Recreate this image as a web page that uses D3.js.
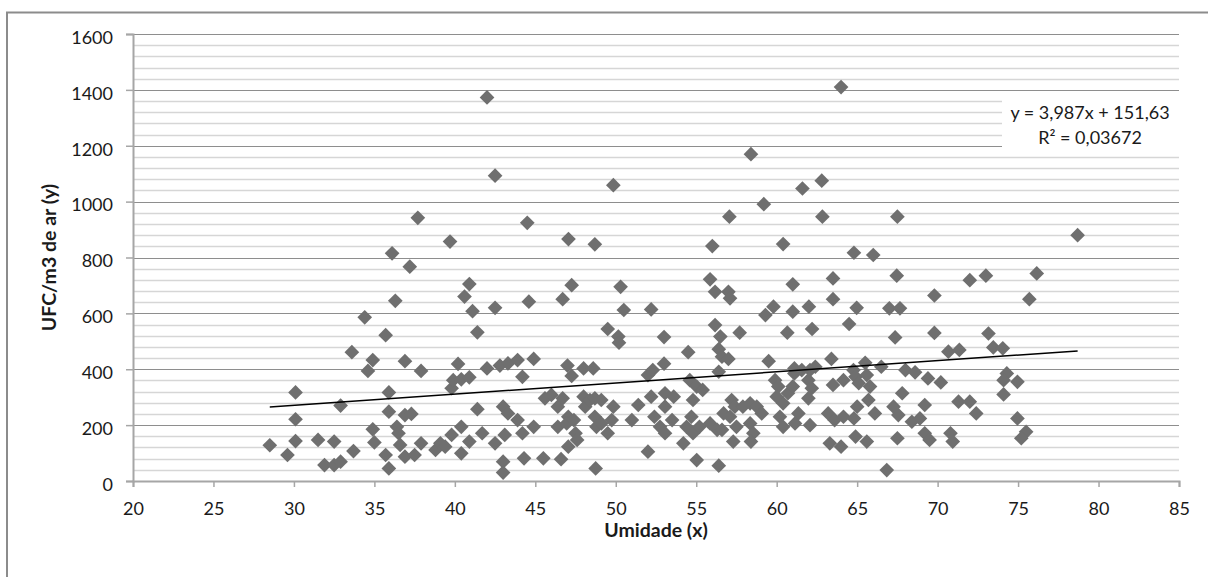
<!DOCTYPE html>
<html>
<head>
<meta charset="utf-8">
<script src="https://cdn.jsdelivr.net/npm/d3@7"></script>
<style>
  html, body { margin: 0; padding: 0; background: #fff; }
  svg { display: block; font-family: Lato, "Open Sans", sans-serif; }
</style>
</head>
<body>
<svg id="chart" width="1208" height="577"></svg>
<script>
/* ---- data ---- */
const humidity = [
  28.5, 29.6, 30.1, 30.1, 30.1, 31.5, 31.9, 32.5, 32.5, 32.9, 32.9, 33.7, 33.6, 34.4, 34.6, 34.9, 34.9, 35.0, 35.7, 35.7,
  35.9, 35.9, 35.9, 36.1, 36.3, 36.4, 36.5, 36.6, 36.9, 36.9, 36.9, 37.3, 37.2, 37.5, 37.7, 37.9, 37.9, 38.8, 39.1, 39.4,
  39.7, 39.8, 39.8, 39.9, 40.2, 40.4, 40.4, 40.4, 40.6, 40.9, 40.9, 40.9, 41.1, 41.4, 41.4, 41.7, 42.0, 42.0, 42.5, 42.5,
  42.5, 42.8, 43.0, 43.0, 43.0, 43.1, 43.3, 43.3, 43.9, 43.9, 44.2, 44.2, 44.3, 44.5, 44.6, 44.9, 44.9, 45.5, 45.6, 46.0,
  46.4, 46.7, 47.05, 46.4, 46.95, 47.4, 47.5, 47.05, 47.6, 48.0, 48.1, 48.4, 48.7, 49.1, 48.7, 48.8, 49.1, 49.5, 49.85, 49.75,
  51.0, 51.4, 52.2, 52.4, 52.75, 46.6, 46.7, 47.0, 47.06, 47.26, 47.26, 48.0, 48.6, 48.7, 48.75, 49.5, 49.85, 50.16, 50.2, 50.3,
  50.5, 52.0, 52.0, 52.2, 52.3, 53.0, 53.0, 53.06, 53.6, 53.06, 53.5, 53.06, 54.6, 55.03, 55.4, 54.8, 54.7, 54.4, 54.8, 54.2,
  55.2, 55.86, 56.3, 56.6, 56.7, 57.2, 57.4, 57.1, 57.5, 57.9, 58.35, 58.76, 59.07, 58.35, 58.55, 59.9, 60.1, 60.0, 60.4, 60.2,
  60.7, 61.0, 61.1, 54.5, 55.03, 56.4, 57.3, 58.4, 60.4, 58.4, 57.06, 59.2, 61.6, 56.0, 60.4, 55.86, 56.17, 57.0, 57.1, 61.0,
  59.8, 59.3, 61.0, 56.17, 56.5, 57.7, 60.66, 56.4, 56.6, 57.0, 59.5, 56.4, 62.8, 62.84, 67.5, 64.8, 66.0, 63.5, 67.46, 63.5,
  62.0, 64.97, 67.0, 67.66, 62.2, 64.5, 67.36, 69.8, 69.8, 63.4, 61.1, 61.56, 62.07, 62.4, 61.97, 62.18, 61.97, 61.35, 61.14, 62.07,
  63.5, 63.2, 63.6, 64.15, 64.15, 64.77, 64.9, 65.1, 65.6, 65.8, 65.7, 65.0, 64.8, 66.1, 65.5, 66.5, 68.0, 68.6, 67.8, 67.26,
  67.56, 69.2, 68.4, 68.9, 69.2, 69.5, 66.84, 63.3, 64.0, 64.9, 65.6, 67.5, 64.0, 69.4, 70.2, 70.67, 71.35, 72.0, 73.0, 76.16,
  75.7, 73.16, 73.46, 74.05, 74.3, 74.1, 74.96, 74.1, 71.3, 72.0, 72.4, 74.96, 75.5, 75.2, 70.8, 70.94, 78.7
];
const ufc = [
  128, 93, 317, 221, 143, 147, 57, 141, 57, 69, 270, 107, 461, 586, 394, 433, 185, 138, 522, 93,
  45, 317, 248, 815, 645, 194, 171, 129, 429, 236, 87, 240, 767, 93, 942, 394, 135, 111, 135, 123,
  857, 165, 332, 361, 419, 364, 194, 99, 660, 371, 705, 141, 608, 532, 257, 171, 1373, 403, 1093, 620,
  135, 413, 266, 69, 30, 165, 421, 242, 433, 218, 373, 171, 81, 924, 642, 437, 194, 81, 296, 308,
  266, 296, 230, 194, 206, 218, 171, 123, 147, 302, 266, 290, 296, 290, 230, 194, 206, 171, 266, 218,
  218, 272, 302, 230, 194, 78, 651, 413, 866, 701, 376, 403, 403, 847, 45, 544, 1059, 517, 495, 695,
  612, 105, 379, 614, 397, 420, 515, 314, 302, 266, 218, 171, 361, 338, 326, 290, 230, 194, 171, 135,
  194, 206, 183, 183, 242, 290, 266, 230, 194, 266, 278, 266, 242, 206, 171, 361, 338, 302, 278, 230,
  314, 338, 385, 461, 75, 55, 141, 141, 194, 1170, 946, 991, 1047, 841, 848, 722, 677, 677, 654, 704,
  624, 594, 606, 558, 517, 531, 531, 472, 445, 437, 429, 391, 1075, 946, 946, 817, 809, 725, 735, 651,
  624, 620, 618, 618, 544, 562, 514, 664, 530, 437, 403, 397, 397, 409, 361, 332, 296, 242, 206, 200,
  344, 242, 218, 361, 230, 397, 373, 350, 379, 338, 290, 266, 224, 242, 423, 409, 397, 389, 314, 266,
  236, 272, 212, 224, 171, 147, 39, 135, 123, 159, 141, 153, 1410, 367, 353, 463, 469, 719, 735, 743,
  651, 528, 478, 475, 385, 361, 355, 310, 284, 284, 242, 224, 176, 153, 171, 141, 880
];
const xTicks = [20, 25, 30, 35, 40, 45, 50, 55, 60, 65, 70, 75, 80, 85];
const yTicks = [0, 200, 400, 600, 800, 1000, 1200, 1400, 1600];
const trendSlope = 3.987;
const trendIntercept = 151.63;
const trendRange = [28.5, 78.7];
const equationLines = ['y = 3,987x + 151,63', 'R\u00b2 = 0,03672'];

/* ---- layout ---- */
const M = { left: 133, right: 1179, top: 34, bottom: 481 };
const svg = d3.select('#chart');

// outer chart frame (cut off at right / bottom)
svg.append('rect')
  .attr('x', 7).attr('y', 12.5)
  .attr('width', 1240).attr('height', 620)
  .attr('fill', 'none')
  .attr('stroke', '#8c8c8c')
  .attr('stroke-width', 2);

const x = d3.scaleLinear().domain([20, 85]).range([M.left, M.right]);
const y = d3.scaleLinear().domain([0, 1600]).range([M.bottom, M.top]);

// minor gridlines every 40
const minor = d3.range(40, 1600, 40).filter(v => v % 200 !== 0);
svg.append('g')
  .selectAll('line')
  .data(minor)
  .join('line')
  .attr('x1', M.left).attr('x2', M.right)
  .attr('y1', d => Math.round(y(d)) + 0.5).attr('y2', d => Math.round(y(d)) + 0.5)
  .attr('stroke', '#d6d6d6')
  .attr('stroke-width', 1.6);

// major gridlines
svg.append('g')
  .selectAll('line')
  .data(yTicks.filter(v => v > 0))
  .join('line')
  .attr('x1', M.left).attr('x2', M.right)
  .attr('y1', d => Math.round(y(d)) + 0.5).attr('y2', d => Math.round(y(d)) + 0.5)
  .attr('stroke', '#8e8e8e')
  .attr('stroke-width', 1);

// axes
const yAxis = svg.append('g')
  .attr('transform', `translate(${M.left},0)`)
  .call(d3.axisLeft(y).tickValues(yTicks).tickSize(7).tickPadding(13).tickFormat(d3.format('d')));
const xAxis = svg.append('g')
  .attr('transform', `translate(0,${M.bottom})`)
  .call(d3.axisBottom(x).tickValues(xTicks).tickSize(6).tickPadding(15));

[yAxis, xAxis].forEach(g => {
  g.select('.domain').attr('stroke', '#a6a6a6').attr('stroke-width', 2);
  g.selectAll('.tick line').attr('stroke', '#a6a6a6').attr('stroke-width', 1.5);
  g.selectAll('text')
    .attr('font-family', 'Lato, sans-serif')
    .attr('font-size', 18)
    .attr('fill', '#1a1a1a');
});
yAxis.selectAll('text').attr('dy', '0.68em').attr('y', -3);

// points: diamonds
const pts = humidity.map((h, i) => ({ h, v: ufc[i] }));
const diamond = d3.symbol().type(d3.symbolSquare).size(108);
svg.append('g')
  .selectAll('path')
  .data(pts)
  .join('path')
  .attr('d', diamond)
  .attr('transform', d => `translate(${x(d.h)},${y(d.v)}) rotate(45)`)
  .attr('fill', '#6f6f6f');

// linear trend line
svg.append('line')
  .attr('x1', x(trendRange[0])).attr('y1', y(trendSlope * trendRange[0] + trendIntercept))
  .attr('x2', x(trendRange[1])).attr('y2', y(trendSlope * trendRange[1] + trendIntercept))
  .attr('stroke', '#000')
  .attr('stroke-width', 1.5);

// equation label box
svg.append('rect')
  .attr('x', 1002).attr('y', 99)
  .attr('width', M.right - 1002).attr('height', 50)
  .attr('fill', '#fff');
svg.append('g')
  .selectAll('text')
  .data(equationLines)
  .join('text')
  .attr('x', 1090)
  .attr('y', (d, i) => 119 + i * 25)
  .attr('text-anchor', 'middle')
  .attr('font-size', 18)
  .attr('fill', '#1a1a1a')
  .text(d => d);

// axis titles
svg.append('text')
  .attr('transform', `translate(56,${(M.top + M.bottom) / 2}) rotate(-90)`)
  .attr('text-anchor', 'middle')
  .attr('font-weight', 'bold')
  .attr('font-size', 19.5)
  .attr('fill', '#1a1a1a')
  .text('UFC/m3 de ar (y)');
svg.append('text')
  .attr('x', (M.left + M.right) / 2)
  .attr('y', 537)
  .attr('text-anchor', 'middle')
  .attr('font-weight', 'bold')
  .attr('font-size', 19.5)
  .attr('fill', '#1a1a1a')
  .text('Umidade (x)');
</script>
</body>
</html>
